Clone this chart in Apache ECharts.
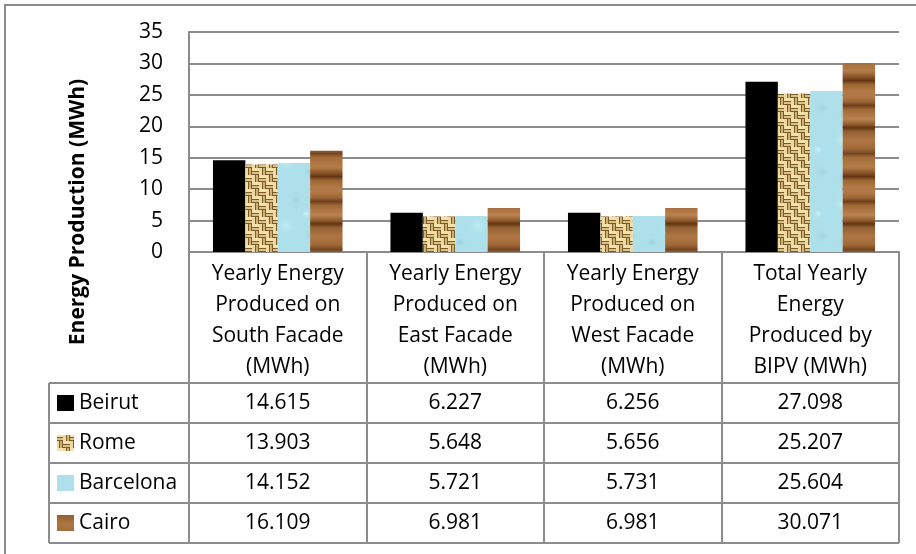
<!DOCTYPE html>
<html>
<head>
<meta charset="utf-8">
<script src="https://cdn.jsdelivr.net/npm/echarts@6/dist/echarts.min.js"></script>
<style>
  html, body { margin: 0; padding: 0; background: #fff; }
  #chart { width: 916px; height: 554px; }
</style>
</head>
<body>
<div id="chart"></div>
<script>
// Chart data
const categories = [
  'Yearly Energy\nProduced on\nSouth Facade\n(MWh)',
  'Yearly Energy\nProduced on\nEast Facade\n(MWh)',
  'Yearly Energy\nProduced on\nWest Facade\n(MWh)',
  'Total Yearly\nEnergy\nProduced by\nBIPV (MWh)'
];
const cities = ['Beirut', 'Rome', 'Barcelona', 'Cairo'];
const beirut = [14.615, 6.227, 6.256, 27.098];
const rome = [13.903, 5.648, 5.656, 25.207];
const barcelona = [14.152, 5.721, 5.731, 25.604];
const cairo = [16.109, 6.981, 6.981, 30.071];
const yTicks = [0, 5, 10, 15, 20, 25, 30, 35];
const yTitle = 'Energy Production (MWh)';

const FONT = '"Open Sans", "Noto Sans", sans-serif';
const FS = 21;
const GRID_COLOR = '#8c8c8c';

// ---- fill textures ----
function makeCanvas(w, h, draw) {
  const c = document.createElement('canvas');
  c.width = w; c.height = h;
  draw(c.getContext('2d'), w, h);
  return c;
}

// woven burlap
const burlap = makeCanvas(14, 14, (g, w, h) => {
  g.fillStyle = '#7a5c2a';
  g.fillRect(0, 0, w, h);
  for (let i = 0; i < 2; i++) {
    for (let j = 0; j < 2; j++) {
      const x0 = i * 7, y0 = j * 7;
      if ((i + j) % 2 === 0) {
        g.fillStyle = '#f3e2ac'; g.fillRect(x0, y0, 7, 3);
        g.fillStyle = '#dcc084'; g.fillRect(x0, y0 + 4, 7, 2);
      } else {
        g.fillStyle = '#efd9a0'; g.fillRect(x0, y0, 3, 7);
        g.fillStyle = '#cfb172'; g.fillRect(x0 + 4, y0, 2, 7);
      }
    }
  }
});

// pale water
const water = makeCanvas(64, 64, (g, w, h) => {
  g.fillStyle = '#ade0ea';
  g.fillRect(0, 0, w, h);
  const spots = [[10, 12, 9, '#c8eef4'], [40, 8, 7, '#98d3de'], [30, 34, 11, '#c2ebf2'],
                 [54, 44, 8, '#9dd5e0'], [12, 50, 7, '#96d0dc'], [50, 22, 6, '#cdf0f5']];
  spots.forEach(([x, y, r, c]) => {
    const grd = g.createRadialGradient(x, y, 0, x, y, r);
    grd.addColorStop(0, c);
    grd.addColorStop(1, 'rgba(173,224,234,0)');
    g.fillStyle = grd;
    g.fillRect(x - r, y - r, 2 * r, 2 * r);
  });
});

// wood grain
const wood = makeCanvas(40, 96, (g, w, h) => {
  const grd = g.createLinearGradient(0, 0, 0, h);
  const stops = [
    [0.00, '#b27a47'], [0.06, '#9c6534'], [0.10, '#6e3f1a'], [0.14, '#a06836'],
    [0.24, '#b98250'], [0.30, '#8e5a2c'], [0.33, '#5f3414'], [0.37, '#93602f'],
    [0.46, '#ae7644'], [0.55, '#a06a38'], [0.60, '#744420'], [0.64, '#a46d3b'],
    [0.74, '#b47c49'], [0.80, '#8a5529'], [0.84, '#613615'], [0.88, '#9c6533'],
    [0.95, '#b17946'], [1.00, '#b27a47']
  ];
  stops.forEach(([o, c]) => grd.addColorStop(o, c));
  g.fillStyle = grd;
  g.fillRect(0, 0, w, h);
});

const fills = [
  '#000000',
  { image: burlap, repeat: 'repeat' },
  { image: water, repeat: 'repeat' },
  { image: wood, repeat: 'repeat' }
];
const seriesValues = [beirut, rome, barcelona, cairo];

const chart = echarts.init(document.getElementById('chart'), null, { renderer: 'canvas' });

chart.setOption({
  animation: false,
  backgroundColor: '#ffffff',
  grid: { left: 189, right: 17, top: 32, bottom: 302, containLabel: false },
  xAxis: {
    type: 'category',
    data: categories,
    axisLine: { show: true, lineStyle: { color: GRID_COLOR, width: 2 } },
    axisTick: { show: true, inside: false, length: 291, alignWithLabel: false,
                lineStyle: { color: GRID_COLOR, width: 2 } },
    axisLabel: { color: '#000', fontFamily: FONT, fontSize: FS, lineHeight: 31,
                 margin: 7, verticalAlign: 'top', interval: 0 },
    splitLine: { show: false }
  },
  yAxis: {
    type: 'value',
    min: yTicks[0],
    max: yTicks[yTicks.length - 1],
    interval: 5,
    axisLine: { show: true, lineStyle: { color: GRID_COLOR, width: 2 } },
    axisTick: { show: false },
    axisLabel: { color: '#000', fontFamily: FONT, fontSize: FS, margin: 26 },
    splitLine: { show: true, lineStyle: { color: GRID_COLOR, width: 2 } }
  },
  series: cities.map((name, i) => ({
    name,
    type: 'bar',
    data: seriesValues[i],
    barGap: '0%',
    barCategoryGap: '27%',
    itemStyle: { color: fills[i] }
  }))
});

// ---- axis title, page frame and data table beneath the plot ----
function buildTable() {
  const graphics = [];
  const lineStyle = { stroke: GRID_COLOR, lineWidth: 2 };
  const tableLeft = 49;
  const c0 = chart.convertToPixel({ xAxisIndex: 0 }, 0);
  const c1 = chart.convertToPixel({ xAxisIndex: 0 }, 1);
  const right = c0 + (c1 - c0) * 3.5;
  const top = 383, rowH = 40;

  graphics.push({ type: 'text', x: 78, y: 212, rotation: Math.PI / 2,
                  style: { text: yTitle, fill: '#000', font: 'bold 21px ' + FONT,
                           textAlign: 'center', textVerticalAlign: 'middle' }, silent: true });

  // outer frame of the page
  graphics.push({ type: 'line', shape: { x1: 4, y1: 5, x2: 916, y2: 5 }, style: lineStyle, silent: true });
  graphics.push({ type: 'line', shape: { x1: 5, y1: 5, x2: 5, y2: 554 }, style: lineStyle, silent: true });

  for (let r = 0; r <= cities.length; r++) {
    const y = top + r * rowH;
    graphics.push({ type: 'line', shape: { x1: tableLeft, y1: y, x2: right, y2: y }, style: lineStyle, silent: true });
  }
  graphics.push({ type: 'line', shape: { x1: tableLeft, y1: top, x2: tableLeft, y2: top + rowH * cities.length },
                  style: lineStyle, silent: true });

  cities.forEach((name, r) => {
    const cy = top + r * rowH + rowH / 2;
    graphics.push({ type: 'rect', shape: { x: 57, y: cy - 8, width: 17, height: 16 },
                    style: { fill: fills[r] }, silent: true });
    graphics.push({ type: 'text', x: 79, y: cy,
                    style: { text: name, fill: '#000', font: FS + 'px ' + FONT, textVerticalAlign: 'middle', textAlign: 'left' },
                    silent: true });
    seriesValues[r].forEach((v, c) => {
      const cx = chart.convertToPixel({ xAxisIndex: 0 }, c);
      graphics.push({ type: 'text', x: cx, y: cy,
                      style: { text: v.toFixed(3), fill: '#000', font: FS + 'px ' + FONT, textVerticalAlign: 'middle', textAlign: 'center' },
                      silent: true });
    });
  });
  chart.setOption({ graphic: graphics });
}
buildTable();
</script>
</body>
</html>
